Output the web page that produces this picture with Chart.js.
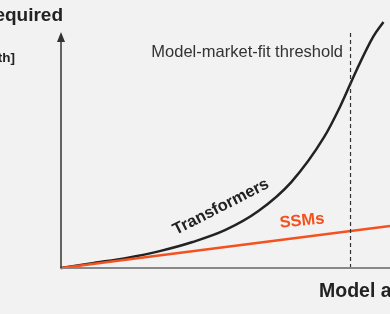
<!DOCTYPE html>
<html>
<head>
<meta charset="utf-8">
<script src="https://cdn.jsdelivr.net/npm/chart.js@4.4.1/dist/chart.umd.min.js"></script>
<style>
  html, body { margin: 0; padding: 0; background: #f2f2f2; }
  #wrap { width: 390px; height: 314px; }
</style>
</head>
<body>
<div id="wrap"><canvas id="grafico" width="390" height="314"></canvas></div>
<script>
// valores (unidades arbitrarias)
const abilityPts = [0, 1, 2, 3, 4, 5, 6, 7, 8, 8.5, 9, 9.5, 9.8];
const transformerCompute = [0, 2.0, 4.0, 6.7, 10.3, 15.1, 22.6, 34.1, 52, 64.5, 79, 92, 97.6];
const ssmAbility = [0, 10];
const ssmCompute = [0, 16.7];
const thresholdX = 8.8;
const thresholdTop = 93.7;

const laranja = '#f4511e';
const escuro = '#222222';

const toPts = (xs, ys) => xs.map((x, i) => ({ x: x, y: ys[i] }));

const eixos = {
  id: 'eixos',
  beforeDraw(chart) {
    const c = chart.ctx;
    c.save();
    c.fillStyle = '#f2f2f2';
    c.fillRect(0, 0, chart.width, chart.height);
    c.restore();
  },
  afterDraw(chart) {
    const c = chart.ctx;
    const sx = chart.scales.x, sy = chart.scales.y;
    const x0 = sx.getPixelForValue(0);
    const y0 = sy.getPixelForValue(0);
    const yTop = sy.getPixelForValue(thresholdTop);
    c.save();
    // eixo x
    c.strokeStyle = '#888888';
    c.lineWidth = 2;
    c.beginPath();
    c.moveTo(x0 - 1, y0);
    c.lineTo(chart.width, y0);
    c.stroke();
    // eixo y com seta
    c.strokeStyle = '#333333';
    c.lineWidth = 1.5;
    c.beginPath();
    c.moveTo(x0, y0);
    c.lineTo(x0, yTop + 6);
    c.stroke();
    c.fillStyle = '#333333';
    c.beginPath();
    c.moveTo(x0, yTop);
    c.lineTo(x0 - 4, yTop + 10);
    c.lineTo(x0 + 4, yTop + 10);
    c.closePath();
    c.fill();

    // textos
    c.fillStyle = escuro;
    c.textBaseline = 'alphabetic';
    c.font = 'bold 19px "Liberation Sans", Arial, sans-serif';
    c.textAlign = 'right';
    c.fillText('Compute required', 63, 21);
    c.font = 'bold 13.5px "Liberation Sans", Arial, sans-serif';
    c.fillText('[per sequence length]', 15, 62);
    c.font = 'bold 19.5px "Liberation Sans", Arial, sans-serif';
    c.textAlign = 'left';
    c.fillText('Model ability', 319, 297);

    c.fillStyle = '#333333';
    c.font = '16.5px "Liberation Sans", Arial, sans-serif';
    c.textAlign = 'right';
    c.fillText('Model-market-fit threshold', 343, 57);

    c.save();
    c.translate(221, 207);
    c.rotate(-27 * Math.PI / 180);
    c.fillStyle = escuro;
    c.font = 'bold 16.5px "Liberation Sans", Arial, sans-serif';
    c.textAlign = 'center';
    c.textBaseline = 'middle';
    c.fillText('Transformers', 0, 0);
    c.restore();

    c.save();
    c.translate(302, 221);
    c.rotate(-6 * Math.PI / 180);
    c.fillStyle = laranja;
    c.font = 'bold 16.5px "Liberation Sans", Arial, sans-serif';
    c.textAlign = 'center';
    c.textBaseline = 'middle';
    c.fillText('SSMs', 0, 0);
    c.restore();

    c.restore();
  }
};

const ctx = document.getElementById('grafico').getContext('2d');
const grafico = new Chart(ctx, {
  type: 'scatter',
  data: {
    datasets: [
      {
        label: 'threshold',
        data: toPts([thresholdX, thresholdX], [0, thresholdTop]),
        showLine: true,
        borderColor: '#333333',
        borderWidth: 1.2,
        borderDash: [4, 3],
        pointRadius: 0,
        clip: false
      },
      {
        label: 'SSMs',
        data: toPts(ssmAbility, ssmCompute),
        showLine: true,
        borderColor: laranja,
        borderWidth: 2.5,
        pointRadius: 0,
        clip: false
      },
      {
        label: 'Transformers',
        data: toPts(abilityPts, transformerCompute),
        showLine: true,
        borderColor: escuro,
        borderWidth: 2.5,
        cubicInterpolationMode: 'monotone',
        pointRadius: 0,
        clip: false
      }
    ]
  },
  options: {
    responsive: false,
    animation: false,
    layout: { padding: { left: 61, right: 0, top: 16, bottom: 46 } },
    scales: {
      x: { type: 'linear', min: 0, max: 10, display: false },
      y: { type: 'linear', min: 0, max: 100, display: false }
    },
    plugins: {
      legend: { display: false },
      title: { display: false },
      tooltip: { enabled: false }
    }
  },
  plugins: [eixos]
});
</script>
</body>
</html>
